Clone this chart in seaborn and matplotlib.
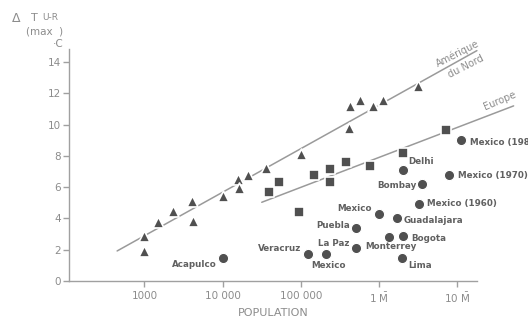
import numpy as np
import pandas as pd
import matplotlib
matplotlib.use("Agg")
import matplotlib.pyplot as plt
import seaborn as sns

# ---- data ----
# Amerique du Nord (triangles)
na_pop = [1000, 1000, 1500, 2300, 4000, 4200, 10000, 15500, 16000, 21000,
          36000, 100000, 410000, 420000, 575000, 830000, 1120000, 3100000]
na_dt = [2.9, 1.9, 3.75, 4.5, 5.1, 3.85, 5.4, 6.5, 5.95, 6.8,
         7.25, 8.1, 9.8, 11.2, 11.55, 11.2, 11.55, 12.45]

# Europe (squares)
eu_pop = [39000, 52000, 95000, 145000, 235000, 235000, 380000, 760000, 2040000, 7250000]
eu_dt = [5.7, 6.35, 4.4, 6.8, 6.3, 7.15, 7.6, 7.35, 8.15, 9.65]

# tropical cities (circles)
city_names = ["Acapulco", "Veracruz", "Mexico", "La Paz", "Puebla", "Mexico",
              "Guadalajara", "Monterrey", "Bogota", "Lima", "Delhi", "Bombay",
              "Mexico (1960)", "Mexico (1970)", "Mexico (1981)"]
city_pop = [10000, 123000, 210000, 510000, 500000, 1000000, 1700000, 1320000,
            2000000, 1950000, 2000000, 3550000, 3240000, 7760000, 11200000]
city_dt = [1.5, 1.75, 1.7, 2.1, 3.4, 4.3, 4.05, 2.8, 2.85, 1.5, 7.1, 6.2,
           4.95, 6.8, 9.0]

# regression lines
na_line_pop = [447, 17800000]
na_line_dt = [1.92, 14.72]
eu_line_pop = [31600, 52500000]
eu_line_dt = [5.03, 11.19]

x_ticks = [1000, 10000, 100000, 1000000, 10000000]
x_ticklabels = ["1000", "10 000", "100 000", r"1 $\bar{\mathrm{M}}$", r"10 $\bar{\mathrm{M}}$"]
y_ticks = [0, 2, 4, 6, 8, 10, 12, 14]

# label offsets in points (dx, dy, ha)
label_offsets = [(-4, -5, "right"), (-5, 4, "right"), (1.5, -8, "center"),
                 (-5, 3, "right"), (-4, 2, "right"), (-5, 4, "right"),
                 (5, -2, "left"), (1.5, -7, "center"), (6, -1.5, "left"),
                 (5, -6, "left"), (4, 6, "left"), (-4, -1, "right"),
                 (6, 0, "left"), (6.5, -1, "left"), (6.5, -1.5, "left")]

# ---- style ----
sns.set_theme(style="white")
plt.rcParams['font.family'] = ['DejaVu Sans']
plt.rcParams['mathtext.fontset'] = 'dejavusans'
grey = "#8c8c8c"
mark = "#505050"

fig = plt.figure(figsize=(5.28, 3.24), dpi=100)
ax = fig.add_axes([0.1307, 0.1327, 0.7727, 0.7163])

ax.plot(na_line_pop, na_line_dt, color="#9a9a9a", lw=1.1, clip_on=False, zorder=1)
ax.plot(eu_line_pop, eu_line_dt, color="#9a9a9a", lw=1.1, clip_on=False, zorder=1)

na = pd.DataFrame({"pop": na_pop, "dt": na_dt})
eu = pd.DataFrame({"pop": eu_pop, "dt": eu_dt})
ct = pd.DataFrame({"pop": city_pop, "dt": city_dt, "name": city_names})

sns.scatterplot(data=na, x="pop", y="dt", marker="^", s=62, color=mark,
                edgecolor="white", linewidth=1.2, ax=ax, zorder=3, clip_on=False)
sns.scatterplot(data=eu, x="pop", y="dt", marker="s", s=50, color=mark,
                edgecolor="white", linewidth=1.2, ax=ax, zorder=3, clip_on=False)
sns.scatterplot(data=ct, x="pop", y="dt", marker="o", s=54, color=mark,
                edgecolor="white", linewidth=0.8, ax=ax, zorder=3, clip_on=False)

for (name, p, d), (dx, dy, ha) in zip(zip(city_names, city_pop, city_dt), label_offsets):
    ax.annotate(name, (p, d), xytext=(dx, dy), textcoords="offset points",
                ha=ha, va="center", fontsize=6.3, fontweight="bold", color="#606060",
                family=["Liberation Sans Narrow", "DejaVu Sans"],
                annotation_clip=False)

ax.set_xscale("log")
ax.set_xlim(10 ** 2.035, 10 ** 7.252)
ax.set_ylim(0, 14.83)
ax.set_xticks(x_ticks)
ax.set_xticklabels(x_ticklabels)
ax.minorticks_off()
ax.set_yticks(y_ticks)
ax.set_xlabel("POPULATION", color=grey, fontsize=8, labelpad=2)
ax.set_ylabel("")

for side in ["top", "right"]:
    ax.spines[side].set_visible(False)
for side in ["left", "bottom"]:
    ax.spines[side].set_color("#a0a0a0")
    ax.spines[side].set_linewidth(1.0)
ax.tick_params(axis="both", colors="#a0a0a0", labelcolor=grey, labelsize=7.5,
               length=4, width=1.0, direction="out", left=True, bottom=True)
ax.tick_params(axis="y", pad=2)
ax.tick_params(axis="x", pad=3)

# line names
ax.text(10 ** 7.0, 14.55, "Amérique", rotation=27, ha="center", va="center",
        fontsize=7, color=grey)
ax.text(10 ** 7.11, 13.7, "du Nord", rotation=27, ha="center", va="center",
        fontsize=7, color=grey)
ax.text(10 ** 7.55, 11.5, "Europe", rotation=23, ha="center", va="center",
        fontsize=7, color=grey)

# y axis title
fig.text(12 / 528, 1 - 18 / 324, "\u0394", fontsize=9, color=grey, va="center")
fig.text(31 / 528, 1 - 18 / 324, "T", fontsize=8, color=grey, va="center")
fig.text(42 / 528, 1 - 17 / 324, "U-R", fontsize=6.5, color=grey, va="center")
fig.text(26 / 528, 1 - 31 / 324, "(max  )", fontsize=7.5, color=grey, va="center")
fig.text(53 / 528, 1 - 44 / 324, "\u00b7C", fontsize=7.5, color=grey, va="center")

fig.savefig("out.png", dpi=100)
